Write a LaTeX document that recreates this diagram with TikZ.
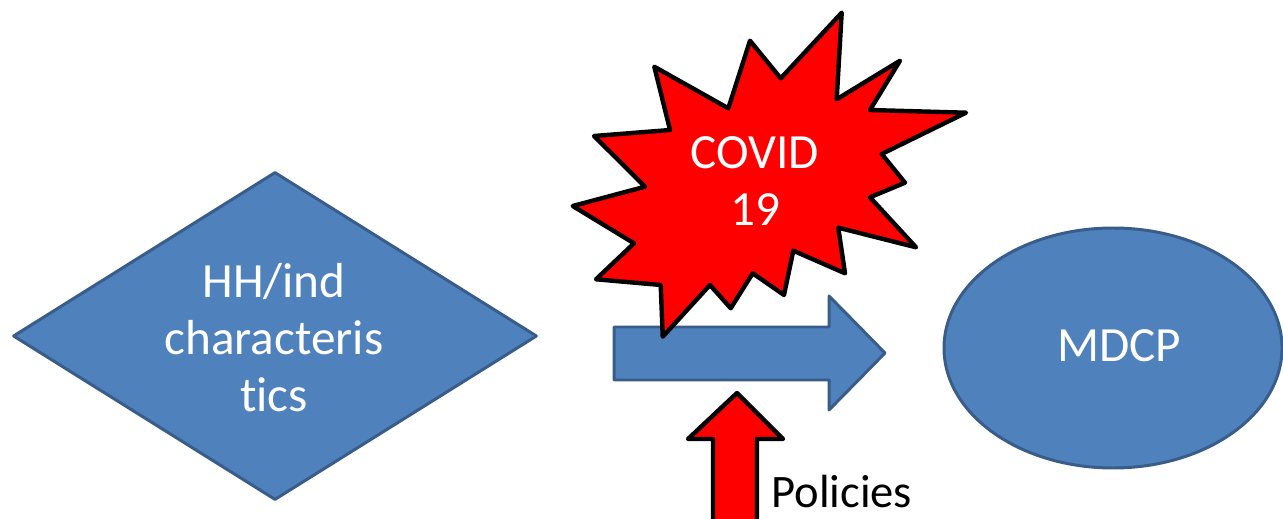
\documentclass[tikz,border=0pt]{standalone}
\usepackage{fontspec}
\setmainfont{Carlito}[Ligatures={NoCommon,NoRare}]
\usetikzlibrary{shapes.geometric}
\definecolor{boxblue}{HTML}{4F81BD}
\definecolor{boxedge}{HTML}{385D8A}
\tikzset{
  bluefill/.style={fill=boxblue, draw=boxedge, line width=1.7pt, line join=round},
  redfill/.style={fill=red, draw=black, line width=2.5pt, line join=round},
  bigtext/.style={text=white, font=\fontsize{28}{32.5}\selectfont, align=center},
}
\begin{document}
\begin{tikzpicture}[x=0.02cm, y=-0.02cm]
\useasboundingbox (0,0) rectangle (1283,519);
% diamond
\node[bluefill, diamond, minimum width=524*0.02cm, minimum height=328*0.02cm, inner sep=0pt] (hh) at (275,336) {};
\node[bigtext] (hhtext) at (274,338) {HH/ind\\characteris\\t{}ics};
% ellipse
\node[bluefill, ellipse, minimum width=338*0.02cm, minimum height=240*0.02cm, inner sep=0pt] (mdcp) at (1113,348) {};
\node[bigtext] (mdcptext) at (1119,346) {MDCP};
% horizontal block arrow
\draw[bluefill] (614,327) -- (829,327) -- (829,296) -- (885,353) -- (829,410) -- (829,380) -- (614,380) -- cycle;
% red up arrow
\draw[redfill] (713,540) -- (713,439) -- (688,439) -- (737,393) -- (783,439) -- (757,439) -- (757,540) -- cycle;
\node[anchor=base west, font=\fontsize{26.5}{30}\selectfont, inner sep=0pt] (pol) at (771,507) {Policies};
% star
\draw[redfill] (841.7,12.7) -- (836.7,99.3) -- (900,60.7) -- (870,110) -- (966,112.7) -- (881.7,154) -- (905,182.7) -- (870,197.3) -- (916,247.3) -- (838.3,227.7) -- (845,273.3) -- (793.3,250.7) -- (784,295) -- (752.7,273.3) -- (730.7,308.3) -- (710,285) -- (662.7,336.7) -- (660.7,285) -- (596,279.3) -- (634,243.3) -- (572.7,206) -- (645,186.7) -- (594,136) -- (670,130) -- (654.3,66.7) -- (728.3,108.3) -- (750,40.7) -- (780.7,78.3) -- cycle;
\node[bigtext] (covid) at (755,181) {COVID\\19};
\end{tikzpicture}
\end{document}
